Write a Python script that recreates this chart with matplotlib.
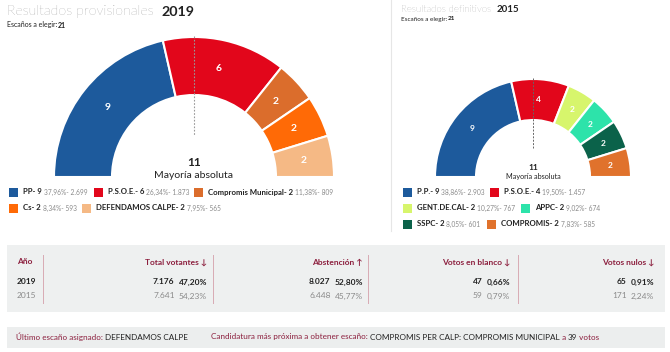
import numpy as np
import matplotlib.pyplot as plt
from matplotlib.patches import Wedge, Rectangle

plt.rcParams['font.family'] = ['Lato', 'DejaVu Sans']

# ---------------- data ----------------
seats_2019 = [9, 6, 2, 2, 2]
parties_2019 = ["PP", "P.S.O.E.", "Compromis Municipal", "Cs", "DEFENDAMOS CALPE"]
pct_2019 = ["37,96%", "26,34%", "11,38%", "8,34%", "7,95%"]
votes_2019 = ["2.699", "1.873", "809", "593", "565"]
colors_2019 = ["#1d5a9c", "#e2061b", "#db6d2c", "#ff6a06", "#f5b985"]

seats_2015 = [9, 4, 2, 2, 2, 2]
parties_2015 = ["P.P.", "P.S.O.E.", "GENT.DE.CAL", "APPC", "SSPC", "COMPROMIS"]
pct_2015 = ["38,86%", "19,50%", "10,27%", "9,02%", "8,05%", "7,83%"]
votes_2015 = ["2.903", "1.457", "767", "674", "601", "585"]
colors_2015 = ["#1d5a9c", "#e2061b", "#d7f56c", "#2de3aa", "#0b624a", "#e0722c"]

total_seats = 21
majority = 11

years = ["2019", "2015"]
col_headers = ["Total votantes ↓", "Abstención ↑", "Votos en blanco ↓", "Votos nulos ↓"]
col_numbers = [["7.176", "8.027", "47", "65"], ["7.641", "6.448", "59", "171"]]
col_pcts = [["47,20%", "52,80%", "0,66%", "0,91%"], ["54,23%", "45,77%", "0,79%", "2,24%"]]

last_seat = "DEFENDAMOS CALPE"
next_seat = "COMPROMIS PER CALP: COMPROMIS MUNICIPAL"
next_votes = "39"

MAROON = "#8c1f3e"
GRAY = "#8a8a8a"
DARK = "#222222"

fig = plt.figure(figsize=(6.7, 3.52), dpi=100)
ax = fig.add_axes([0, 0, 1, 1])
ax.set_xlim(0, 670)
ax.set_ylim(352, 0)   # pixel-like coords, y grows downward
ax.axis("off")
renderer = fig.canvas.get_renderer()


def text_width(t):
    return t.get_window_extent(renderer=renderer).width


def run_text(x, y, pieces):
    # pieces: (string, color, weight, size) drawn one after another
    for s, c, w, sz in pieces:
        t = ax.text(x, y, s, color=c, fontweight=w, fontsize=sz, va="center", ha="left")
        x += text_width(t)
    return x


def hemicycle(cx, cy, r_out, r_in, seats, colors, fs):
    # y axis is inverted, so angles are mirrored: upper half = 180..360 in data terms
    start = 180.0
    for n, c in zip(seats, colors):
        span = 180.0 * n / total_seats
        w = Wedge((cx, cy), r_out, -start, -(start - span), width=r_out - r_in,
                  facecolor=c, edgecolor="white", linewidth=1.5)
        ax.add_patch(w)
        mid = np.radians(start - span / 2)
        rm = (r_out + r_in) / 2
        ax.text(cx + rm * np.cos(mid), cy - rm * np.sin(mid), str(n), color="white",
                fontweight="bold", fontsize=fs, ha="center", va="center")
        start -= span


def legend(y0, rows, parties, seats, pcts, votes, colors, xs, dy, fs_b, fs_n):
    i = 0
    for r, row in enumerate(rows):
        for j in range(row):
            x = xs[r][j]
            y = y0 + r * dy
            ax.add_patch(Rectangle((x, y - 4.5), 9, 9, facecolor=colors[i], edgecolor="none"))
            run_text(x + 14, y, [(f"{parties[i]}- {seats[i]} ", DARK, "bold", fs_b),
                                 (f"{pcts[i]}- {votes[i]}", GRAY, "normal", fs_n)])
            i += 1


# ---------------- 2019 ----------------
run_text(7, 12, [("Resultados provisionales  ", "#666666", "light", 10.3),
                 ("2019", DARK, "bold", 10.3)])
run_text(7, 25, [("Escaños a elegir:", DARK, "normal", 5), ("21", DARK, "bold", 5)])

hemicycle(194, 177, 140, 82, seats_2019, colors_2019, 7.5)
ax.plot([194, 194], [36, 136], color="#999999", lw=0.8, ls=(0, (1.5, 1.5)))
ax.text(194, 162, str(majority), ha="center", va="center", fontweight="bold", fontsize=8.5, color=DARK)
ax.text(194, 176, "Mayoría absoluta", ha="center", va="center", fontsize=7.5, color=DARK)

legend(192, [3, 2], parties_2019, seats_2019, pct_2019, votes_2019, colors_2019,
       [[9, 94, 194], [9, 82]], 16, 5.6, 4.8)

# ---------------- 2015 ----------------
ax.plot([391, 391], [0, 231], color="#e6e6e6", lw=0.8)
run_text(401, 9, [("Resultados definitivos  ", "#666666", "light", 7),
                  ("2015", DARK, "bold", 7)])
run_text(401, 19, [("Escaños a elegir:", DARK, "normal", 4.6), ("21", DARK, "bold", 4.6)])

hemicycle(533, 177, 98, 57, seats_2015, colors_2015, 6)
ax.plot([533, 533], [78, 148], color="#666666", lw=0.7, ls=(0, (2, 1.5)))
ax.text(533, 168, str(majority), ha="center", va="center", fontweight="bold", fontsize=6, color=DARK)
ax.text(533, 176, "Mayoría absoluta", ha="center", va="center", fontsize=5.2, color=DARK)

legend(192, [2, 2, 2], parties_2015, seats_2015, pct_2015, votes_2015, colors_2015,
       [[403, 490], [403, 521], [403, 487]], 16, 5.6, 4.8)

# ---------------- table ----------------
FS_T = 6.0
ax.add_patch(Rectangle((7, 245), 658, 67, facecolor="#eef0f0", edgecolor="none"))
ax.text(17, 262, "Año", color=MAROON, fontweight="bold", fontsize=FS_T, va="center")
for k, yr in enumerate(years):
    ax.text(17, 282 + 14 * k, yr, color=DARK if k == 0 else GRAY,
            fontweight="bold" if k == 0 else "normal", fontsize=FS_T, va="center")

for sx in [43, 213, 368, 518]:
    ax.plot([sx, sx], [255, 303], color="#d8aab4", lw=0.7)

col_right = [207, 363, 510, 654]
for c, xr in enumerate(col_right):
    ax.text(xr, 262, col_headers[c], color=MAROON, fontweight="bold", fontsize=FS_T,
            ha="right", va="center")
    for k in range(2):
        col = DARK if k == 0 else GRAY
        wt = "bold" if k == 0 else "normal"
        y = 282 + 14 * k
        t = ax.text(xr, y, col_pcts[k][c], color=col, fontweight=wt, fontsize=FS_T,
                    ha="right", va="center")
        ax.text(xr - text_width(t) - 4, y, col_numbers[k][c], color=col, fontweight=wt,
                fontsize=FS_T, ha="right", va="center")

# ---------------- bottom note ----------------
FS_N = 5.9
ax.add_patch(Rectangle((7, 327), 658, 21, facecolor="#eceeee", edgecolor="none"))
run_text(16, 337, [("Último escaño asignado: ", MAROON, "normal", FS_N),
                   (last_seat, DARK, "normal", FS_N)])
run_text(211, 337, [("Candidatura más próxima a obtener escaño: ", MAROON, "normal", FS_N),
                    (next_seat, DARK, "normal", FS_N),
                    (" a ", MAROON, "normal", FS_N),
                    (next_votes, DARK, "normal", FS_N),
                    (" votos", MAROON, "normal", FS_N)])

fig.savefig("out.png", dpi=100)
